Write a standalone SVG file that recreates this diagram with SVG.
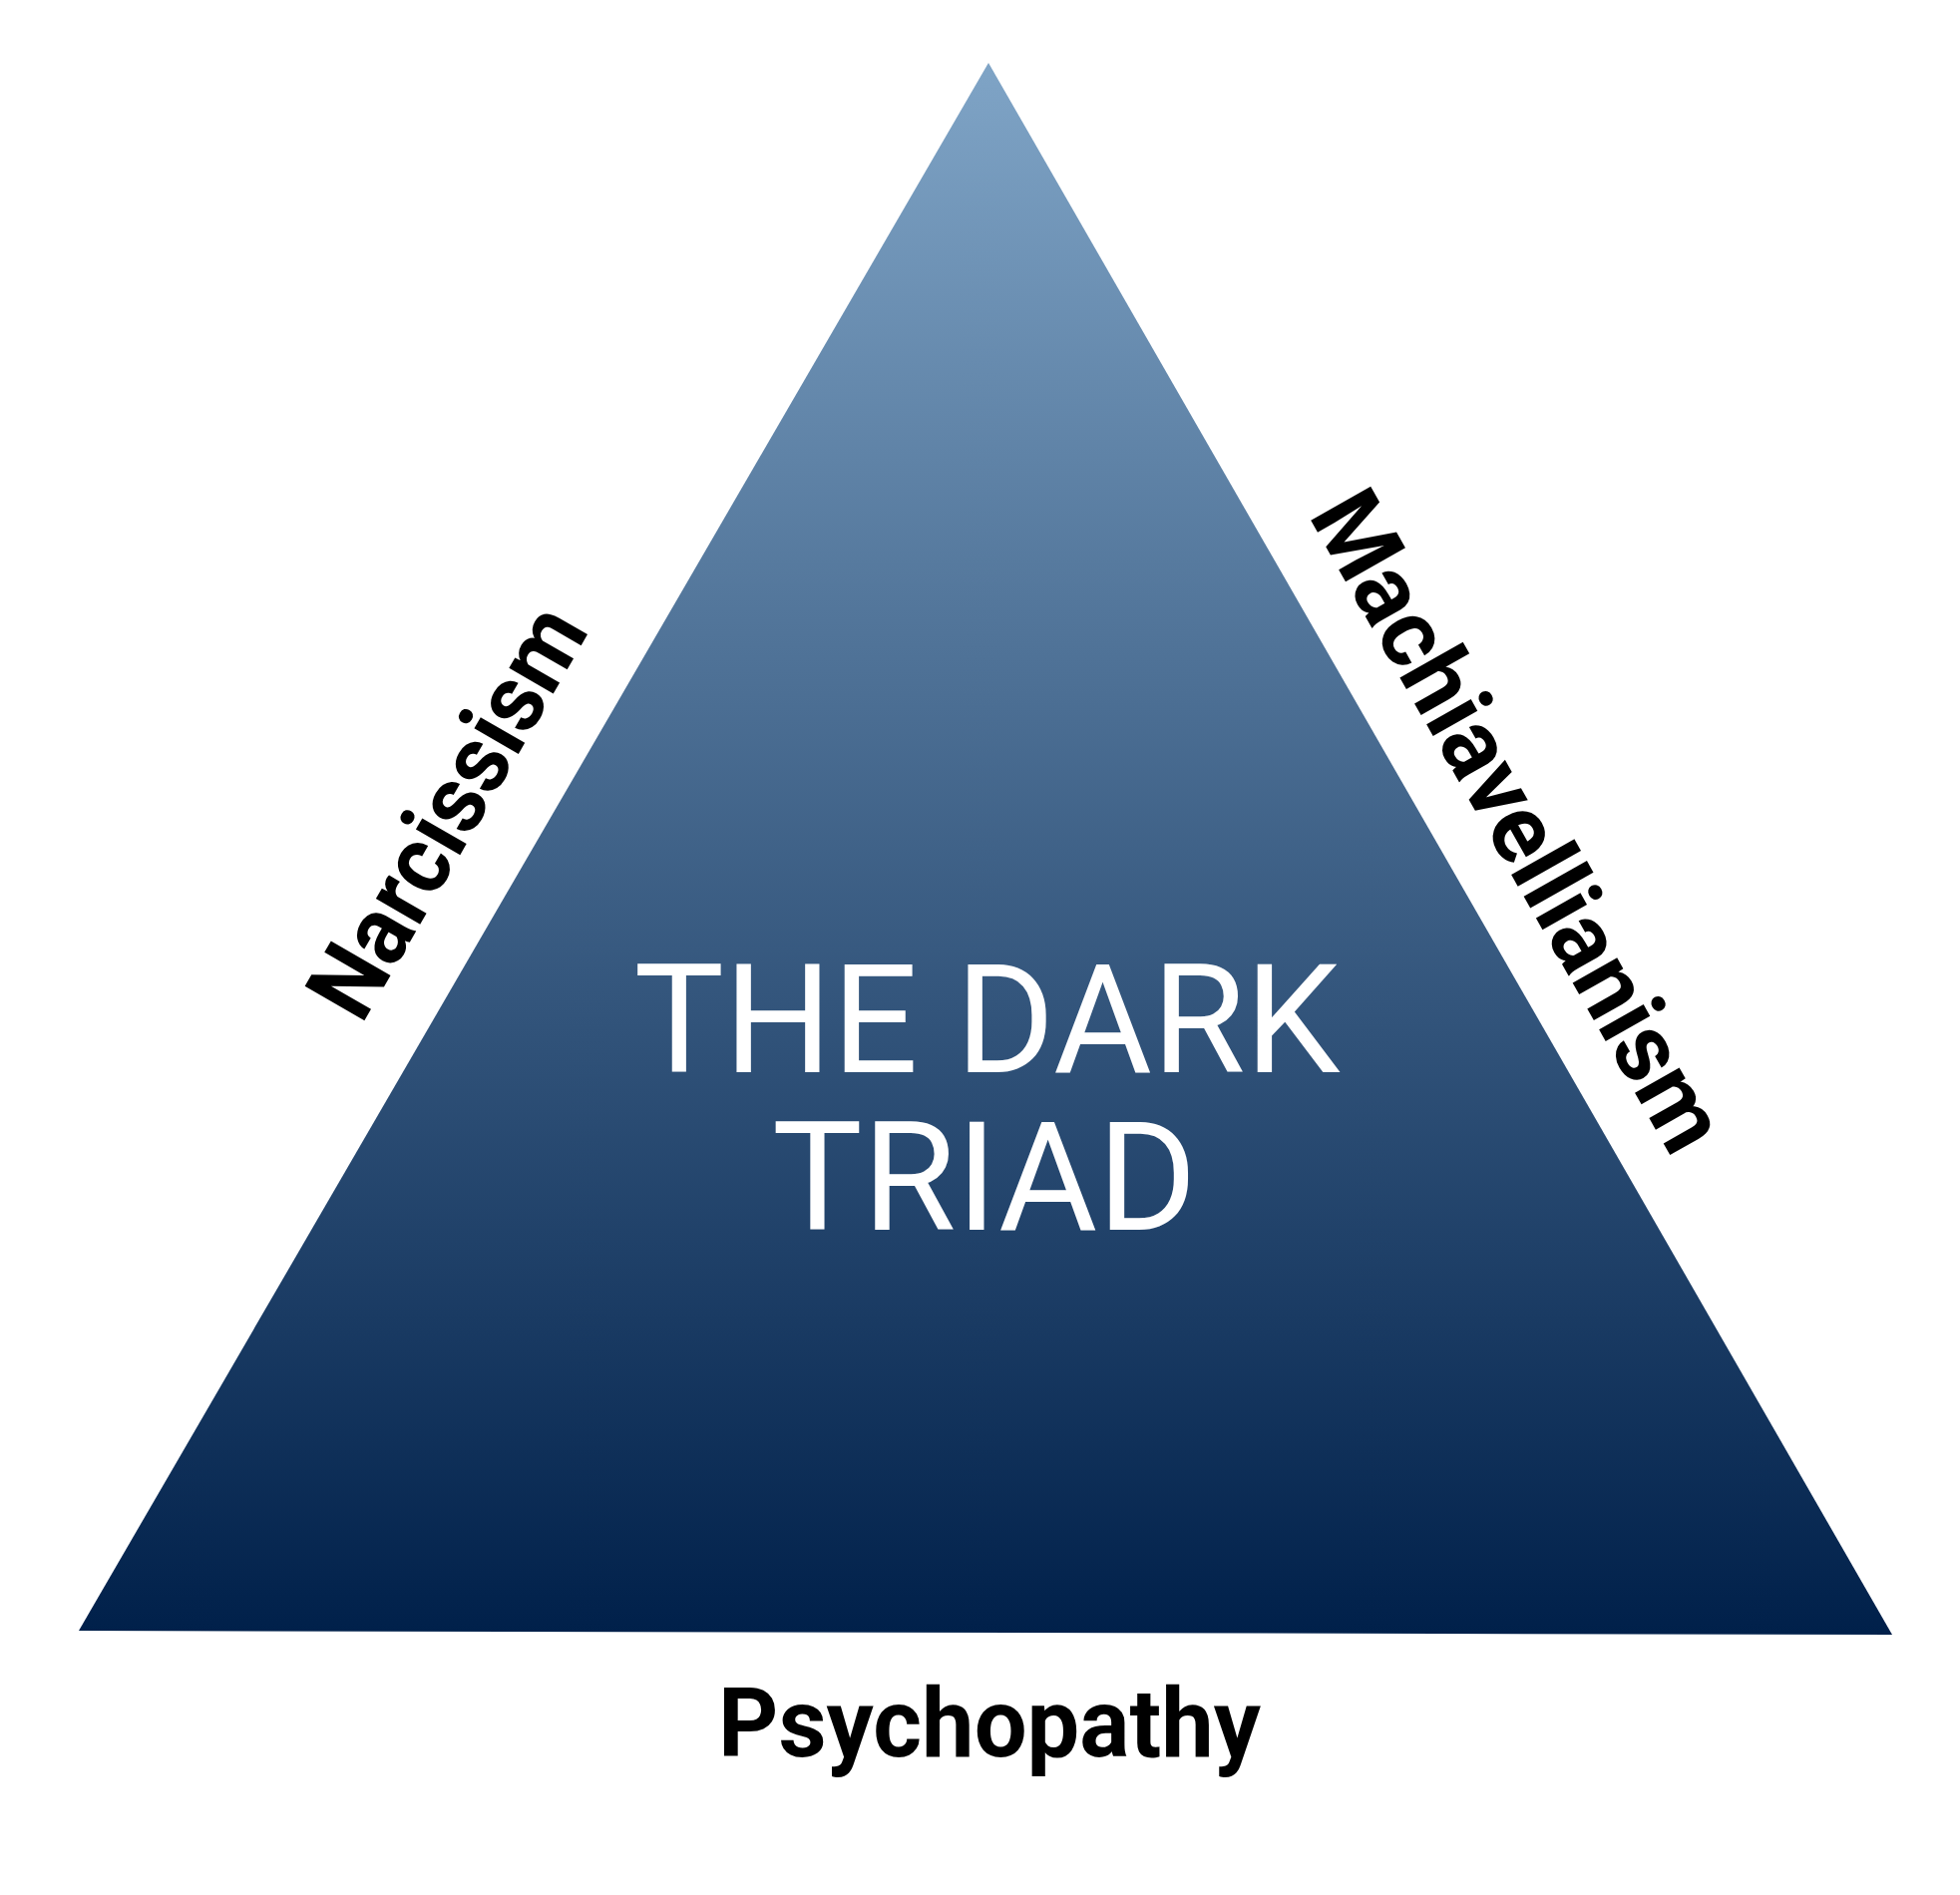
<svg xmlns="http://www.w3.org/2000/svg" width="1965" height="1900" viewBox="0 0 1965 1900">
<defs>
<linearGradient id="g" x1="0" y1="63" x2="0" y2="1639" gradientUnits="userSpaceOnUse">
<stop offset="0" stop-color="#7fa4c6"/>
<stop offset="1" stop-color="#00204a"/>
</linearGradient>
<style>
.title{font-family:Roboto,"Liberation Sans",sans-serif;font-size:152px;fill:#ffffff;text-anchor:middle}
.label{font-family:Roboto,"Liberation Sans",sans-serif;font-weight:bold;font-size:97px;fill:#000000;text-anchor:middle}
</style>
</defs>
<rect width="1965" height="1900" fill="#ffffff"/>
<g id="triangle">
<polygon points="991,63 1897,1639 79,1635" fill="url(#g)"/>
<text class="title" x="989.5" y="1075" textLength="708" lengthAdjust="spacingAndGlyphs">THE DARK</text>
<text class="title" x="987" y="1233" textLength="426" lengthAdjust="spacingAndGlyphs">TRIAD</text>
</g>
<g id="narcissism">
<text class="label" transform="translate(477,830) rotate(-60)" x="0" y="0" textLength="458" lengthAdjust="spacingAndGlyphs">Narcissism</text>
</g>
<g id="machiavellianism">
<text class="label" transform="translate(1494,839.5) rotate(60.5)" x="0" y="0" textLength="742" lengthAdjust="spacingAndGlyphs">Machiavellianism</text>
</g>
<g id="psychopathy">
<text class="label" x="992" y="1761" textLength="544" lengthAdjust="spacingAndGlyphs">Psychopathy</text>
</g>
<g id="connectors"/>
</svg>
